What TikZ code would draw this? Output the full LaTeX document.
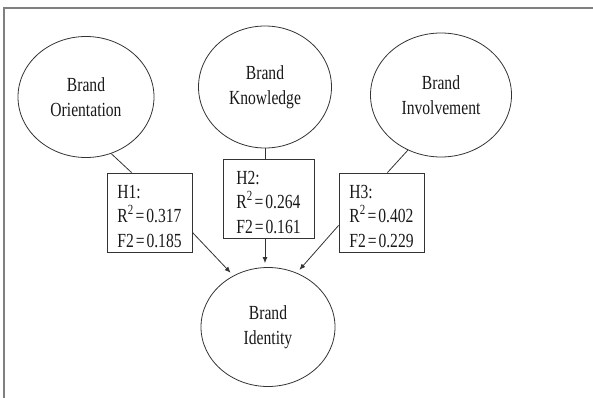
\documentclass[tikz,border=0pt]{standalone}
\usepackage{fontspec}
\usepackage{xcolor}
\usepackage{tikz}
\usetikzlibrary{shapes.geometric,arrows.meta}
\setmainfont{Liberation Serif}[FakeStretch=0.78,WordSpace=0.5]

\begin{document}
\begin{tikzpicture}[x=1pt,y=-1pt,
  construct/.style={ellipse,draw=black!80,line width=0.8pt,inner sep=0pt,align=center,text=black!90,font=\fontsize{20}{25}\selectfont},
  hypbox/.style={rectangle,draw=black!80,line width=0.8pt,minimum width=85pt,minimum height=79pt,inner sep=0pt,align=left,text=black!90,text height=73pt,text depth=4pt,font=\fontsize{20}{24.5}\selectfont},
  link/.style={draw=black!80,line width=0.8pt},
  effect/.style={link,-{Latex[length=6pt,width=5pt]},shorten >=4pt}]
\useasboundingbox (0,0) rectangle (593,398);
\draw[gray,line width=1.4pt] (4,398) -- (4,8) -- (593,8);

\node[construct,minimum width=136pt,minimum height=121pt] (orient) at (86,97) {Brand\\Orientation};
\node[construct,minimum width=133pt,minimum height=122pt] (know) at (265,87) {Brand\\Knowledge};
\node[construct,minimum width=141pt,minimum height=124pt] (involve) at (441,95) {Brand\\Involvement};
\node[construct,minimum width=134pt,minimum height=119pt] (ident) at (268,327) {Brand\\Identity};

\node[hypbox] (hone) at (149.5,212.5) {H1:\\R\textsuperscript{2} = 0.317\\F2 = 0.185};
\node[hypbox,minimum width=91pt] (htwo) at (268.5,198.5) {H2:\\R\textsuperscript{2} = 0.264\\F2 = 0.161};
\node[hypbox] (hthree) at (381.5,212.5) {H3:\\R\textsuperscript{2} = 0.402\\F2 = 0.229};

\draw[link] (orient.-66) -- ([xshift=25pt]hone.north west);
\draw[link] (know.south) -- (know.south |- htwo.north);
\draw[link] (involve.-121) -- ([xshift=-37pt]hthree.north east);

\draw[effect] ([yshift=20pt]hone.south east) -- (ident.124);
\draw[effect] (htwo.south -| know.south) -- (ident.north -| know.south);
\draw[effect] ([yshift=27pt]hthree.south west) -- (ident.62);

\end{tikzpicture}
\end{document}
